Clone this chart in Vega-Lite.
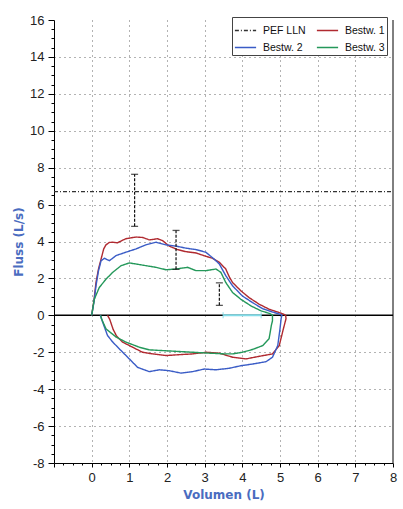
{
  "$schema": "https://vega.github.io/schema/vega-lite/v6.json",
  "width": 339,
  "height": 443,
  "autosize": {"type": "none"},
  "padding": {"left": 54, "top": 20, "right": 10, "bottom": 46},
  "background": "white",
  "config": {
    "view": {"stroke": null},
    "font": "Liberation Sans",
    "axis": {
      "domainColor": "#000000",
      "domainWidth": 1,
      "tickColor": "#000000",
      "labelColor": "#222222",
      "labelFont": "Liberation Sans",
      "labelFontSize": 13,
      "labelOverlap": false,
      "labelFlush": false,
      "titleFont": "DejaVu Sans",
      "titleFontWeight": "bold",
      "titleFontSize": 12,
      "titleColor": "#4a6cc0",
      "gridColor": "#666666",
      "gridDash": [1, 4],
      "gridWidth": 1
    },
    "legend": {
      "orient": "none",
      "legendX": 178,
      "legendY": -3,
      "columns": 2,
      "direction": "horizontal",
      "symbolType": "stroke",
      "symbolSize": 450,
      "symbolStrokeWidth": 1.4,
      "labelFont": "Liberation Sans",
      "labelFontSize": 10.5,
      "labelColor": "#111111",
      "labelOffset": 6,
      "columnPadding": 8,
      "rowPadding": -7,
      "padding": 2,
      "strokeColor": "#444444",
      "fillColor": "white"
    }
  },
  "datasets": {
    "curves": [
      {"s": "Bestw. 1", "i": 1, "v": 0, "f": 0},
      {"s": "Bestw. 1", "i": 2, "v": 0.06, "f": 0.8},
      {"s": "Bestw. 1", "i": 3, "v": 0.115, "f": 1.78},
      {"s": "Bestw. 1", "i": 4, "v": 0.18, "f": 2.5},
      {"s": "Bestw. 1", "i": 5, "v": 0.25, "f": 3.05},
      {"s": "Bestw. 1", "i": 6, "v": 0.32, "f": 3.6},
      {"s": "Bestw. 1", "i": 7, "v": 0.38, "f": 3.82},
      {"s": "Bestw. 1", "i": 8, "v": 0.47, "f": 3.95},
      {"s": "Bestw. 1", "i": 9, "v": 0.56, "f": 3.96},
      {"s": "Bestw. 1", "i": 10, "v": 0.69, "f": 3.93},
      {"s": "Bestw. 1", "i": 11, "v": 0.8, "f": 4.05},
      {"s": "Bestw. 1", "i": 12, "v": 0.91, "f": 4.15},
      {"s": "Bestw. 1", "i": 13, "v": 1.05, "f": 4.2},
      {"s": "Bestw. 1", "i": 14, "v": 1.18, "f": 4.24},
      {"s": "Bestw. 1", "i": 15, "v": 1.35, "f": 4.22},
      {"s": "Bestw. 1", "i": 16, "v": 1.53, "f": 4.09},
      {"s": "Bestw. 1", "i": 17, "v": 1.65, "f": 4.12},
      {"s": "Bestw. 1", "i": 18, "v": 1.75, "f": 4.15},
      {"s": "Bestw. 1", "i": 19, "v": 1.88, "f": 4.05},
      {"s": "Bestw. 1", "i": 20, "v": 2.06, "f": 3.75},
      {"s": "Bestw. 1", "i": 21, "v": 2.28, "f": 3.56},
      {"s": "Bestw. 1", "i": 22, "v": 2.5, "f": 3.45},
      {"s": "Bestw. 1", "i": 23, "v": 2.77, "f": 3.38},
      {"s": "Bestw. 1", "i": 24, "v": 3.03, "f": 3.2},
      {"s": "Bestw. 1", "i": 25, "v": 3.21, "f": 3.09},
      {"s": "Bestw. 1", "i": 26, "v": 3.39, "f": 2.87},
      {"s": "Bestw. 1", "i": 27, "v": 3.56, "f": 2.51},
      {"s": "Bestw. 1", "i": 28, "v": 3.65, "f": 2.1},
      {"s": "Bestw. 1", "i": 29, "v": 3.74, "f": 1.78},
      {"s": "Bestw. 1", "i": 30, "v": 3.96, "f": 1.33},
      {"s": "Bestw. 1", "i": 31, "v": 4.18, "f": 0.96},
      {"s": "Bestw. 1", "i": 32, "v": 4.45, "f": 0.6},
      {"s": "Bestw. 1", "i": 33, "v": 4.71, "f": 0.33},
      {"s": "Bestw. 1", "i": 34, "v": 4.98, "f": 0.15},
      {"s": "Bestw. 1", "i": 35, "v": 5.11, "f": 0.05},
      {"s": "Bestw. 1", "i": 36, "v": 5.15, "f": 0},
      {"s": "Bestw. 1", "i": 37, "v": 5.16, "f": -0.18},
      {"s": "Bestw. 1", "i": 38, "v": 5.09, "f": -0.73},
      {"s": "Bestw. 1", "i": 39, "v": 4.98, "f": -1.64},
      {"s": "Bestw. 1", "i": 40, "v": 4.8, "f": -2.09},
      {"s": "Bestw. 1", "i": 41, "v": 4.45, "f": -2.22},
      {"s": "Bestw. 1", "i": 42, "v": 4.1, "f": -2.36},
      {"s": "Bestw. 1", "i": 43, "v": 3.74, "f": -2.27},
      {"s": "Bestw. 1", "i": 44, "v": 3.39, "f": -2.05},
      {"s": "Bestw. 1", "i": 45, "v": 3.04, "f": -2.0},
      {"s": "Bestw. 1", "i": 46, "v": 2.68, "f": -2.09},
      {"s": "Bestw. 1", "i": 47, "v": 2.33, "f": -2.13},
      {"s": "Bestw. 1", "i": 48, "v": 1.97, "f": -2.18},
      {"s": "Bestw. 1", "i": 49, "v": 1.62, "f": -2.09},
      {"s": "Bestw. 1", "i": 50, "v": 1.35, "f": -2.0},
      {"s": "Bestw. 1", "i": 51, "v": 1.09, "f": -1.73},
      {"s": "Bestw. 1", "i": 52, "v": 0.82, "f": -1.45},
      {"s": "Bestw. 1", "i": 53, "v": 0.66, "f": -1.12},
      {"s": "Bestw. 1", "i": 54, "v": 0.57, "f": -0.76},
      {"s": "Bestw. 1", "i": 55, "v": 0.48, "f": -0.22},
      {"s": "Bestw. 1", "i": 56, "v": 0.42, "f": 0},
      {"s": "Bestw. 2", "i": 1, "v": 0, "f": 0},
      {"s": "Bestw. 2", "i": 2, "v": 0.06, "f": 0.7},
      {"s": "Bestw. 2", "i": 3, "v": 0.115, "f": 1.6},
      {"s": "Bestw. 2", "i": 4, "v": 0.18, "f": 2.4},
      {"s": "Bestw. 2", "i": 5, "v": 0.25, "f": 2.96},
      {"s": "Bestw. 2", "i": 6, "v": 0.34, "f": 3.09},
      {"s": "Bestw. 2", "i": 7, "v": 0.47, "f": 2.96},
      {"s": "Bestw. 2", "i": 8, "v": 0.65, "f": 3.24},
      {"s": "Bestw. 2", "i": 9, "v": 0.91, "f": 3.42},
      {"s": "Bestw. 2", "i": 10, "v": 1.18, "f": 3.6},
      {"s": "Bestw. 2", "i": 11, "v": 1.44, "f": 3.82},
      {"s": "Bestw. 2", "i": 12, "v": 1.71, "f": 3.96},
      {"s": "Bestw. 2", "i": 13, "v": 1.97, "f": 3.82},
      {"s": "Bestw. 2", "i": 14, "v": 2.24, "f": 3.75},
      {"s": "Bestw. 2", "i": 15, "v": 2.5, "f": 3.64},
      {"s": "Bestw. 2", "i": 16, "v": 2.77, "f": 3.56},
      {"s": "Bestw. 2", "i": 17, "v": 3.03, "f": 3.42},
      {"s": "Bestw. 2", "i": 18, "v": 3.25, "f": 3.05},
      {"s": "Bestw. 2", "i": 19, "v": 3.39, "f": 2.78},
      {"s": "Bestw. 2", "i": 20, "v": 3.56, "f": 2.15},
      {"s": "Bestw. 2", "i": 21, "v": 3.74, "f": 1.6},
      {"s": "Bestw. 2", "i": 22, "v": 4.0, "f": 1.05},
      {"s": "Bestw. 2", "i": 23, "v": 4.27, "f": 0.69},
      {"s": "Bestw. 2", "i": 24, "v": 4.54, "f": 0.36},
      {"s": "Bestw. 2", "i": 25, "v": 4.8, "f": 0.18},
      {"s": "Bestw. 2", "i": 26, "v": 5.02, "f": 0.05},
      {"s": "Bestw. 2", "i": 27, "v": 5.05, "f": 0},
      {"s": "Bestw. 2", "i": 28, "v": 5.03, "f": -0.18},
      {"s": "Bestw. 2", "i": 29, "v": 5.0, "f": -0.73},
      {"s": "Bestw. 2", "i": 30, "v": 4.94, "f": -1.64},
      {"s": "Bestw. 2", "i": 31, "v": 4.8, "f": -2.27},
      {"s": "Bestw. 2", "i": 32, "v": 4.63, "f": -2.51},
      {"s": "Bestw. 2", "i": 33, "v": 4.27, "f": -2.64},
      {"s": "Bestw. 2", "i": 34, "v": 3.96, "f": -2.73},
      {"s": "Bestw. 2", "i": 35, "v": 3.65, "f": -2.87},
      {"s": "Bestw. 2", "i": 36, "v": 3.3, "f": -2.95},
      {"s": "Bestw. 2", "i": 37, "v": 2.99, "f": -2.91},
      {"s": "Bestw. 2", "i": 38, "v": 2.68, "f": -3.05},
      {"s": "Bestw. 2", "i": 39, "v": 2.37, "f": -3.13},
      {"s": "Bestw. 2", "i": 40, "v": 2.06, "f": -3.0},
      {"s": "Bestw. 2", "i": 41, "v": 1.8, "f": -2.95},
      {"s": "Bestw. 2", "i": 42, "v": 1.53, "f": -3.05},
      {"s": "Bestw. 2", "i": 43, "v": 1.22, "f": -2.82},
      {"s": "Bestw. 2", "i": 44, "v": 1.0, "f": -2.36},
      {"s": "Bestw. 2", "i": 45, "v": 0.78, "f": -1.91},
      {"s": "Bestw. 2", "i": 46, "v": 0.56, "f": -1.45},
      {"s": "Bestw. 2", "i": 47, "v": 0.42, "f": -1.09},
      {"s": "Bestw. 2", "i": 48, "v": 0.29, "f": -0.36},
      {"s": "Bestw. 2", "i": 49, "v": 0.23, "f": 0},
      {"s": "Bestw. 3", "i": 1, "v": 0, "f": 0},
      {"s": "Bestw. 3", "i": 2, "v": 0.07, "f": 0.87},
      {"s": "Bestw. 3", "i": 3, "v": 0.2, "f": 1.5},
      {"s": "Bestw. 3", "i": 4, "v": 0.38, "f": 1.96},
      {"s": "Bestw. 3", "i": 5, "v": 0.56, "f": 2.33},
      {"s": "Bestw. 3", "i": 6, "v": 0.78, "f": 2.69},
      {"s": "Bestw. 3", "i": 7, "v": 1.0, "f": 2.84},
      {"s": "Bestw. 3", "i": 8, "v": 1.18, "f": 2.78},
      {"s": "Bestw. 3", "i": 9, "v": 1.44, "f": 2.69},
      {"s": "Bestw. 3", "i": 10, "v": 1.71, "f": 2.6},
      {"s": "Bestw. 3", "i": 11, "v": 1.97, "f": 2.47},
      {"s": "Bestw. 3", "i": 12, "v": 2.24, "f": 2.51},
      {"s": "Bestw. 3", "i": 13, "v": 2.55, "f": 2.6},
      {"s": "Bestw. 3", "i": 14, "v": 2.77, "f": 2.42},
      {"s": "Bestw. 3", "i": 15, "v": 3.03, "f": 2.42},
      {"s": "Bestw. 3", "i": 16, "v": 3.3, "f": 2.51},
      {"s": "Bestw. 3", "i": 17, "v": 3.43, "f": 2.33},
      {"s": "Bestw. 3", "i": 18, "v": 3.56, "f": 1.78},
      {"s": "Bestw. 3", "i": 19, "v": 3.74, "f": 1.24},
      {"s": "Bestw. 3", "i": 20, "v": 3.96, "f": 0.87},
      {"s": "Bestw. 3", "i": 21, "v": 4.23, "f": 0.51},
      {"s": "Bestw. 3", "i": 22, "v": 4.5, "f": 0.24},
      {"s": "Bestw. 3", "i": 23, "v": 4.71, "f": 0.11},
      {"s": "Bestw. 3", "i": 24, "v": 4.8, "f": 0.02},
      {"s": "Bestw. 3", "i": 25, "v": 4.8, "f": -0.3},
      {"s": "Bestw. 3", "i": 26, "v": 4.77, "f": -0.55},
      {"s": "Bestw. 3", "i": 27, "v": 4.71, "f": -1.27},
      {"s": "Bestw. 3", "i": 28, "v": 4.54, "f": -1.64},
      {"s": "Bestw. 3", "i": 29, "v": 4.27, "f": -1.85},
      {"s": "Bestw. 3", "i": 30, "v": 4.0, "f": -2.0},
      {"s": "Bestw. 3", "i": 31, "v": 3.74, "f": -2.09},
      {"s": "Bestw. 3", "i": 32, "v": 3.56, "f": -2.09},
      {"s": "Bestw. 3", "i": 33, "v": 3.12, "f": -2.05},
      {"s": "Bestw. 3", "i": 34, "v": 2.68, "f": -2.0},
      {"s": "Bestw. 3", "i": 35, "v": 2.24, "f": -1.95},
      {"s": "Bestw. 3", "i": 36, "v": 1.88, "f": -1.91},
      {"s": "Bestw. 3", "i": 37, "v": 1.53, "f": -1.87},
      {"s": "Bestw. 3", "i": 38, "v": 1.27, "f": -1.73},
      {"s": "Bestw. 3", "i": 39, "v": 0.91, "f": -1.45},
      {"s": "Bestw. 3", "i": 40, "v": 0.65, "f": -1.18},
      {"s": "Bestw. 3", "i": 41, "v": 0.38, "f": -0.73},
      {"s": "Bestw. 3", "i": 42, "v": 0.26, "f": -0.18},
      {"s": "Bestw. 3", "i": 43, "v": 0.24, "f": 0}
    ],
    "pef": [{"s": "PEF LLN", "v": -1, "v2": 8, "f": 6.7}],
    "zero": [{"v": -1, "v2": 8, "f": 0}],
    "border": [{"v": 8, "f": -8, "f2": 16}],
    "err": [
      {"v": 1.14, "f": 4.82, "f2": 7.64},
      {"v": 2.24, "f": 2.49, "f2": 4.6},
      {"v": 3.39, "f": 0.54, "f2": 1.76}
    ],
    "caps": [
      {"v": 1.14, "f": 4.82}, {"v": 1.14, "f": 7.64},
      {"v": 2.24, "f": 2.49}, {"v": 2.24, "f": 4.6},
      {"v": 3.39, "f": 0.54}, {"v": 3.39, "f": 1.76}
    ],
    "seg": [{"v": 3.49, "v2": 4.5, "f": 0}],
    "segends": [{"v": 3.49, "f": 0}, {"v": 4.5, "f": 0}]
  },
  "encoding": {
    "x": {
      "field": "v",
      "type": "quantitative",
      "title": "Volumen (L)",
      "scale": {"domain": [-1, 8], "nice": false, "zero": false},
      "axis": {
        "values": [-1, -0.75, -0.5, -0.25, 0, 0.25, 0.5, 0.75, 1, 1.25, 1.5, 1.75, 2, 2.25, 2.5, 2.75, 3, 3.25, 3.5, 3.75, 4, 4.25, 4.5, 4.75, 5, 5.25, 5.5, 5.75, 6, 6.25, 6.5, 6.75, 7, 7.25, 7.5, 7.75, 8],
        "labelExpr": "datum.value >= 0 && datum.value % 1 === 0 ? '' + datum.value : ''",
        "labelOverlap": false,
        "labelFlush": false,
        "tickSize": {"condition": {"test": "datum.value % 1 === 0", "value": 4}, "value": 2},
        "labelPadding": 4,
        "titlePadding": 5,
        "grid": true,
        "gridOpacity": {"condition": {"test": "datum.value >= 0 && datum.value <= 7 && datum.value % 1 === 0", "value": 1}, "value": 0}
      }
    },
    "y": {
      "field": "f",
      "type": "quantitative",
      "title": "Fluss (L/s)",
      "scale": {"domain": [-8, 16], "nice": false, "zero": false},
      "axis": {
        "values": [-8, -7.5, -7, -6.5, -6, -5.5, -5, -4.5, -4, -3.5, -3, -2.5, -2, -1.5, -1, -0.5, 0, 0.5, 1, 1.5, 2, 2.5, 3, 3.5, 4, 4.5, 5, 5.5, 6, 6.5, 7, 7.5, 8, 8.5, 9, 9.5, 10, 10.5, 11, 11.5, 12, 12.5, 13, 13.5, 14, 14.5, 15, 15.5, 16],
        "labelExpr": "datum.value % 2 === 0 ? '' + datum.value : ''",
        "labelOverlap": false,
        "labelFlush": false,
        "tickSize": {"condition": {"test": "datum.value % 2 === 0", "value": 6}, "value": 3},
        "labelPadding": 4,
        "titlePadding": 4,
        "grid": true,
        "gridOpacity": {"condition": {"test": "datum.value % 2 === 0 && datum.value > -8 && datum.value < 16 && datum.value !== 0", "value": 1}, "value": 0}
      }
    }
  },
  "layer": [
    {
      "data": {"name": "zero"},
      "mark": {"type": "rule", "color": "#000000", "strokeWidth": 1.5},
      "encoding": {"x2": {"field": "v2"}}
    },
    {
      "data": {"name": "border"},
      "mark": {"type": "rule", "color": "#000000", "strokeWidth": 1},
      "encoding": {"y2": {"field": "f2"}}
    },
    {
      "data": {"name": "curves"},
      "mark": {"type": "line", "strokeWidth": 1.4, "interpolate": "linear"},
      "encoding": {
        "color": {
          "field": "s",
          "type": "nominal",
          "title": null,
          "scale": {
            "domain": ["PEF LLN", "Bestw. 1", "Bestw. 2", "Bestw. 3"],
            "range": ["#333333", "#b02a30", "#3a5cc6", "#24985a"]
          }
        },
        "strokeDash": {
          "field": "s",
          "type": "nominal",
          "title": null,
          "scale": {
            "domain": ["PEF LLN", "Bestw. 1", "Bestw. 2", "Bestw. 3"],
            "range": [[4, 2, 1, 2], [1, 0], [1, 0], [1, 0]]
          }
        },
        "order": {"field": "i", "type": "quantitative"}
      }
    },
    {
      "data": {"name": "pef"},
      "mark": {"type": "rule", "strokeWidth": 1.2},
      "encoding": {
        "x2": {"field": "v2"},
        "color": {"field": "s", "type": "nominal", "title": null},
        "strokeDash": {"field": "s", "type": "nominal", "title": null}
      }
    },
    {
      "data": {"name": "err"},
      "mark": {"type": "rule", "color": "#111111", "strokeWidth": 1.2, "strokeDash": [3, 1.5]},
      "encoding": {"y2": {"field": "f2"}}
    },
    {
      "data": {"name": "caps"},
      "mark": {"type": "tick", "orient": "horizontal", "color": "#111111", "size": 7, "thickness": 1.3}
    },
    {
      "data": {"name": "seg"},
      "mark": {"type": "rule", "color": "#82dce8", "strokeWidth": 2},
      "encoding": {"x2": {"field": "v2"}}
    },
    {
      "data": {"name": "segends"},
      "mark": {"type": "tick", "orient": "vertical", "color": "#82dce8", "size": 6, "thickness": 1.3}
    }
  ]
}
